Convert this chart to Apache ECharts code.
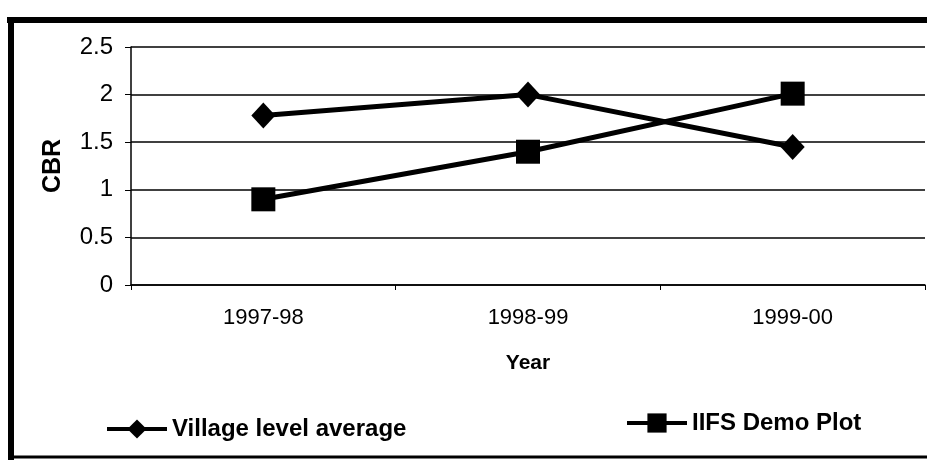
<!DOCTYPE html>
<html><head><meta charset="utf-8">
<script src="https://cdn.jsdelivr.net/npm/echarts@6/dist/echarts.min.js"></script>
<style>html,body{margin:0;padding:0;background:#fff}#c{width:927px;height:460px}</style>
</head><body><div id="c"></div>
<script>
const categories = ['1997-98', '1998-99', '1999-00'];
const villageAvg = [1.78, 2.0, 1.45];
const iifsDemo = [0.9, 1.4, 2.01];
const seriesNames = ['Village level average', 'IIFS Demo Plot'];

const chart = echarts.init(document.getElementById('c'));
const sans = '"Liberation Sans", Arial, sans-serif';
const legendText = { fontFamily: sans, fontWeight: 'bold', fontSize: 24, color: '#000' };
chart.setOption({
  animation: false,
  backgroundColor: '#fff',
  grid: { left: 131, right: 2, top: 47, bottom: 175 },
  xAxis: {
    type: 'category', data: categories, boundaryGap: true,
    name: 'Year', nameLocation: 'middle', nameGap: 68,
    nameTextStyle: { fontFamily: sans, fontWeight: 'bold', fontSize: 21, color: '#000' },
    axisLine: { lineStyle: { color: '#000', width: 1.5 } },
    axisTick: { show: true, length: 5, lineStyle: { color: '#000' } },
    axisLabel: { fontFamily: sans, fontSize: 22, color: '#000', margin: 22 }
  },
  yAxis: {
    type: 'value', min: 0, max: 2.5, interval: 0.5,
    name: 'CBR', nameLocation: 'middle', nameGap: 65, nameRotate: 90,
    nameTextStyle: { fontFamily: sans, fontWeight: 'bold', fontSize: 25, color: '#000' },
    axisLine: { show: true, lineStyle: { color: '#000', width: 1.5 } },
    axisTick: { show: true, length: 6, lineStyle: { color: '#000' } },
    axisLabel: { fontFamily: sans, fontSize: 24, color: '#000', margin: 18 },
    splitLine: { lineStyle: { color: '#000', width: 1.5 } }
  },
  legend: [
    { data: [seriesNames[0]], left: 105, top: 417, itemWidth: 60, itemHeight: 24, padding: 0,
      lineStyle: { width: 4 }, textStyle: legendText },
    { data: [seriesNames[1]], left: 625, top: 411, itemWidth: 60, itemHeight: 24, padding: 0,
      lineStyle: { width: 4 }, textStyle: legendText }
  ],
  series: [
    { name: seriesNames[0], type: 'line', data: villageAvg, symbol: 'diamond', symbolSize: [24, 26],
      lineStyle: { color: '#000', width: 5 }, itemStyle: { color: '#000' } },
    { name: seriesNames[1], type: 'line', data: iifsDemo, symbol: 'rect', symbolSize: [24, 24],
      lineStyle: { color: '#000', width: 5 }, itemStyle: { color: '#000' } }
  ],
  graphic: [
    { type: 'line', shape: { x1: 7, y1: 20, x2: 927, y2: 20 }, style: { stroke: '#000', lineWidth: 6 } },
    { type: 'line', shape: { x1: 11, y1: 17, x2: 11, y2: 460 }, style: { stroke: '#000', lineWidth: 6 } },
    { type: 'line', shape: { x1: 8, y1: 457, x2: 927, y2: 457 }, style: { stroke: '#000', lineWidth: 3 } }
  ]
});
</script></body></html>
